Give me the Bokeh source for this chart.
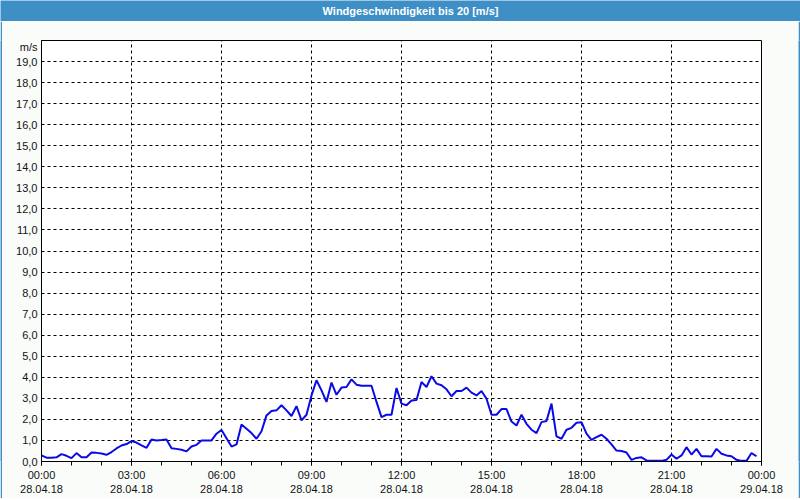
from bokeh.plotting import figure
from bokeh.layouts import column, row
from bokeh.models import Range1d, FixedTicker, Label
from bokeh.embed import file_html
from bokeh.resources import INLINE

title_text = "Windgeschwindigkeit bis 20 [m/s]"
unit_text = "m/s"

# sample times in minutes after 28.04.18 00:00 (10-minute samples)
minutes = list(range(0, 1440, 10))

speed = [
    0.29, 0.18, 0.18, 0.20, 0.35, 0.27, 0.16, 0.40, 0.20, 0.20,
    0.43, 0.41, 0.38, 0.32, 0.45, 0.62, 0.76, 0.83, 0.97, 0.90,
    0.77, 0.65, 1.04, 1.00, 1.02, 1.05, 0.63, 0.60, 0.56, 0.48,
    0.71, 0.79, 1.00, 1.00, 1.00, 1.32, 1.50, 1.10, 0.71, 0.81,
    1.76, 1.56, 1.35, 1.08, 1.44, 2.19, 2.40, 2.43, 2.67, 2.43,
    2.16, 2.63, 1.95, 2.22, 3.14, 3.86, 3.38, 2.83, 3.75, 3.17,
    3.51, 3.54, 3.90, 3.65, 3.60, 3.60, 3.60, 2.83, 2.11, 2.22,
    2.22, 3.49, 2.75, 2.67, 2.90, 2.92, 3.78, 3.54, 4.05, 3.70,
    3.62, 3.43, 3.10, 3.35, 3.35, 3.51, 3.27, 3.14, 3.35, 2.98,
    2.22, 2.22, 2.49, 2.49, 1.90, 1.71, 2.22, 1.79, 1.51, 1.35,
    1.87, 1.92, 2.75, 1.19, 1.08, 1.51, 1.60, 1.84, 1.87, 1.32,
    1.03, 1.16, 1.27, 1.08, 0.81, 0.52, 0.50, 0.43, 0.08, 0.17,
    0.20, 0.05, 0.03, 0.03, 0.03, 0.08, 0.33, 0.13, 0.29, 0.68,
    0.33, 0.60, 0.25, 0.25, 0.24, 0.60, 0.37, 0.29, 0.25, 0.08,
    0.03, 0.03, 0.40, 0.25,
]

x_tick_hours = [0, 3, 6, 9, 12, 15, 18, 21, 24]
x_tick_labels = ["00:00\n28.04.18", "03:00\n28.04.18", "06:00\n28.04.18",
                 "09:00\n28.04.18", "12:00\n28.04.18", "15:00\n28.04.18",
                 "18:00\n28.04.18", "21:00\n28.04.18", "00:00\n29.04.18"]
y_ticks = list(range(0, 20))
y_tick_labels = [f"{v},0" for v in y_ticks]
unit_pos = 19.7   # where the unit text sits on the value axis

FONT = "Liberation Sans"
BAR = "#3d8fc6"
BG = "#fafcfa"

hours = [m / 60 for m in minutes]


def bar(w, h):
    f = figure(width=w, height=h, output_backend="svg", toolbar_location=None,
               x_range=Range1d(0, w), y_range=Range1d(0, h), min_border=0)
    f.axis.visible = False
    f.grid.visible = False
    f.outline_line_color = None
    f.background_fill_color = BAR
    f.border_fill_color = BAR
    return f


# title bar
top = bar(800, 21)
top.add_layout(Label(x=410, y=10.5, text=title_text, text_align="center",
                     text_baseline="middle", text_color="white", text_font=FONT,
                     text_font_size="11px", text_font_style="bold"))
left = bar(2, 477)
right = bar(2, 477)
bottom = bar(800, 2)

p = figure(width=796, height=477, output_backend="svg", toolbar_location=None,
           x_range=Range1d(0, 24), y_range=Range1d(0, 20),
           min_border_left=39, min_border_right=37, min_border_top=19,
           min_border_bottom=37)
p.border_fill_color = BG
p.background_fill_color = "white"
p.outline_line_color = "black"
p.outline_line_width = 1

p.line(hours, speed, line_color="#0a0ae6", line_width=2)

# x axis
xa = p.xaxis[0]
xa.ticker = FixedTicker(ticks=x_tick_hours, minor_ticks=list(range(0, 25)))
xa.major_label_overrides = dict(zip(x_tick_hours, x_tick_labels))
xa.major_tick_out = 4
xa.major_tick_in = 0
xa.minor_tick_out = 4
xa.minor_tick_in = 0
xa.major_label_standoff = 3
xa.major_label_text_font = FONT
xa.major_label_text_font_size = "11px"
xa.major_label_text_color = "#111111"
xa.axis_line_color = "black"

# y axis
ya = p.yaxis[0]
ya.ticker = FixedTicker(ticks=y_ticks + [unit_pos])
overrides = dict(zip(y_ticks, y_tick_labels))
overrides[unit_pos] = unit_text
ya.major_label_overrides = overrides
ya.major_tick_out = 0
ya.major_tick_in = 0
ya.minor_tick_line_color = None
ya.major_label_standoff = 4
ya.major_label_text_font = FONT
ya.major_label_text_font_size = "11px"
ya.major_label_text_color = "#111111"
ya.axis_line_color = "black"

# grid
p.xgrid.ticker = FixedTicker(ticks=[3, 6, 9, 12, 15, 18, 21])
p.ygrid.ticker = FixedTicker(ticks=list(range(1, 20)))
for g in (p.xgrid, p.ygrid):
    g.grid_line_color = "black"
    g.grid_line_dash = "3 3"
    g.grid_line_width = 1

layout = column(top, row(left, p, right), bottom)

open("out.html", "w").write(file_html(layout, INLINE))
